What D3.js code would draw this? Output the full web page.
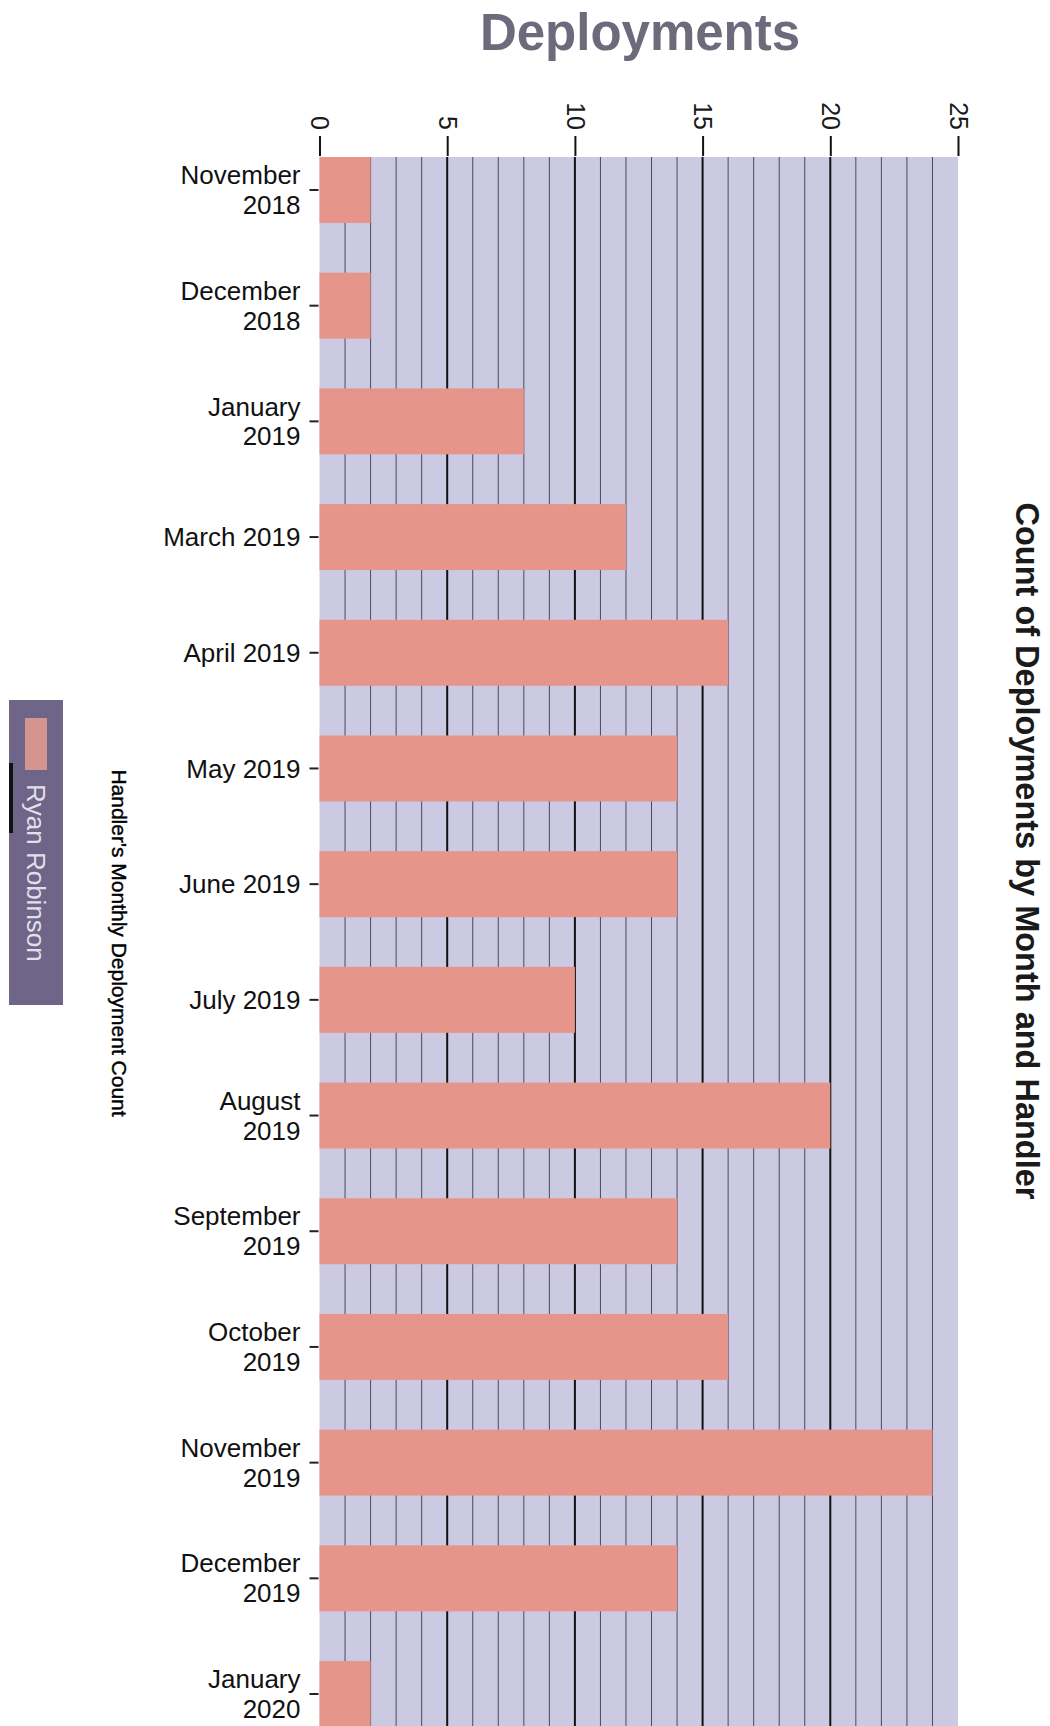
<!DOCTYPE html>
<html>
<head>
<meta charset="utf-8">
<script src="https://cdn.jsdelivr.net/npm/d3@7"></script>
<style>
  html, body { margin: 0; padding: 0; background: #ffffff; }
  svg { display: block; font-family: "Liberation Sans", Arial, sans-serif; }
</style>
</head>
<body>
<svg id="chart" width="1050" height="1726"></svg>
<script>
// Monthly deployment counts for one handler
const months = [
  "November 2018", "December 2018", "January 2019", "March 2019",
  "April 2019", "May 2019", "June 2019", "July 2019", "August 2019",
  "September 2019", "October 2019", "November 2019", "December 2019",
  "January 2020"
];
const counts = [2, 2, 8, 12, 16, 14, 14, 10, 20, 14, 16, 24, 14, 2];
const handlers = ["Ryan Robinson"];
const countTicks = [0, 5, 10, 15, 20, 25];

const svg = d3.select("#chart");

const plot = { left: 319.5, right: 958, top: 157, bottom: 1727 };

const x = d3.scaleLinear().domain([0, 25]).range([plot.left, plot.right]);
const y = d3.scaleBand().domain(months).range([plot.top, plot.bottom])
  .paddingInner(0.43).paddingOuter(0);

// Title
svg.append("text")
  .attr("x", 640).attr("y", 50)
  .attr("text-anchor", "middle")
  .attr("font-size", 51).attr("font-weight", "bold")
  .attr("fill", "#6c6b7c")
  .text("Deployments");

// Plot background
svg.append("rect")
  .attr("x", plot.left).attr("y", plot.top)
  .attr("width", plot.right - plot.left).attr("height", plot.bottom - plot.top)
  .attr("fill", "#cbcae2");

// Vertical grid: every unit, heavier at multiples of five
const gridVals = x.ticks(25).filter(v => v > 0 && v < 25);
svg.append("g").selectAll("line").data(gridVals).join("line")
  .attr("x1", d => x(d)).attr("x2", d => x(d))
  .attr("y1", plot.top).attr("y2", plot.bottom)
  .attr("stroke", d => d % 5 === 0 ? "#111" : "#4a4a5e")
  .attr("stroke-width", d => d % 5 === 0 ? 2 : 1);

// Bars
svg.append("g").selectAll("rect").data(months).join("rect")
  .attr("x", x(0))
  .attr("y", d => y(d))
  .attr("width", (d, i) => x(counts[i]) - x(0))
  .attr("height", y.bandwidth())
  .attr("fill", "#e6958a");

// Count axis along the top, labels turned sideways
const xAxis = svg.append("g")
  .attr("transform", `translate(0,${plot.top - 1})`)
  .call(d3.axisTop(x).tickValues(countTicks).tickSize(20).tickSizeOuter(0).tickPadding(6));
xAxis.select(".domain").remove();
xAxis.selectAll(".tick line").attr("stroke", "#111").attr("stroke-width", 2);
xAxis.selectAll(".tick text")
  .attr("font-size", 25).attr("fill", "#1a1a1a")
  .attr("font-family", "Liberation Sans, Arial, sans-serif")
  .attr("text-anchor", "end")
  .attr("x", 0).attr("y", 0).attr("dy", "0.35em")
  .attr("transform", "translate(0,-26) rotate(90)");

// Month axis on the left
function wrap(sel, width) {
  sel.each(function() {
    const text = d3.select(this);
    const words = text.text().split(/\s+/);
    const xPos = text.attr("x");
    text.text(null);
    const lines = [];
    let line = [];
    const probe = text.append("tspan");
    words.forEach(w => {
      line.push(w);
      probe.text(line.join(" "));
      if (probe.node().getComputedTextLength() > width && line.length > 1) {
        line.pop();
        lines.push(line.join(" "));
        line = [w];
      }
    });
    lines.push(line.join(" "));
    probe.remove();
    const lh = 1.15;
    const start = 0.35 - (lines.length - 1) * lh / 2;
    lines.forEach((l, i) => {
      text.append("tspan").attr("x", xPos)
        .attr("dy", (i === 0 ? start : lh) + "em")
        .text(l);
    });
  });
}

const yAxis = svg.append("g")
  .attr("transform", `translate(${plot.left - 1},0)`)
  .call(d3.axisLeft(y).tickSize(9).tickPadding(9));
yAxis.select(".domain").remove();
yAxis.selectAll(".tick line").attr("stroke", "#222").attr("stroke-width", 2);
yAxis.selectAll(".tick text")
  .attr("font-size", 26).attr("fill", "#111")
  .attr("font-family", "Liberation Sans, Arial, sans-serif")
  .attr("dy", null)
  .call(wrap, 142);

// Axis titles
svg.append("text")
  .attr("transform", "translate(112,943) rotate(90)")
  .attr("text-anchor", "middle")
  .attr("font-size", 21).attr("fill", "#000")
  .attr("stroke", "#000").attr("stroke-width", 0.4)
  .text("Handler's Monthly Deployment Count");

svg.append("text")
  .attr("transform", "translate(1016,851) rotate(90)")
  .attr("text-anchor", "middle")
  .attr("font-size", 32.5).attr("font-weight", "bold").attr("fill", "#1a1a1a")
  .text("Count of Deployments by Month and Handler");

// Legend
const legend = svg.append("g");
legend.append("rect")
  .attr("x", 9).attr("y", 700).attr("width", 54).attr("height", 305)
  .attr("fill", "#6e6588");
legend.append("rect")
  .attr("x", 9).attr("y", 763).attr("width", 4).attr("height", 70)
  .attr("fill", "#111");
legend.selectAll("rect.swatch").data(handlers).join("rect")
  .attr("class", "swatch")
  .attr("x", 25).attr("y", 718).attr("width", 22).attr("height", 52)
  .attr("fill", "#d4958f");
legend.selectAll("text").data(handlers).join("text")
  .attr("transform", "translate(27,784) rotate(90)")
  .attr("font-size", 26).attr("fill", "#e2dfea")
  .text(d => d);
</script>
</body>
</html>
